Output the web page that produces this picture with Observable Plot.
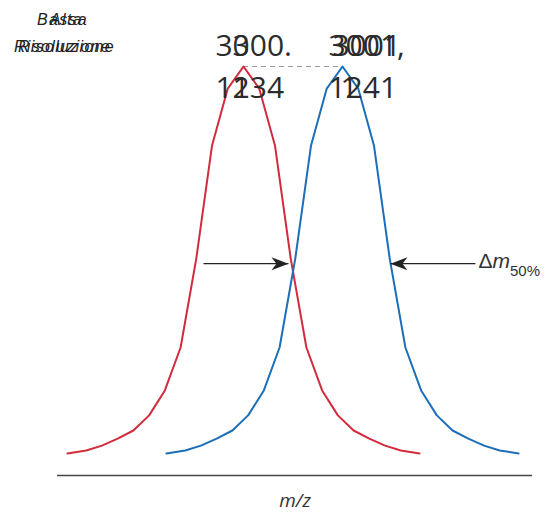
<!DOCTYPE html>
<html>
<head>
<meta charset="utf-8">
<script src="https://cdn.jsdelivr.net/npm/d3@7"></script>
<script src="https://cdn.jsdelivr.net/npm/@observablehq/plot@0.6"></script>
<style>
  html, body { margin: 0; padding: 0; background: #fff; }
  #chart svg { display: block; }
</style>
</head>
<body>
<div id="chart"></div>
<script>
// ---- data ----
const series = ["3000.1234", "3001.1241"];
const peakCenters = [3000.1234, 3001.1241];
const seriesColors = ["#d22b3d", "#1d6eb9"];
// shared peak profile (m/z offset from the peak centre, relative intensity %)
const profileOffset = [-1.78, -1.59, -1.431, -1.272, -1.113, -0.954, -0.795, -0.636, -0.477, -0.318, -0.159, 0,
                        0.159, 0.318, 0.477, 0.636, 0.795, 0.954, 1.113, 1.272, 1.431, 1.59, 1.78];
const profileIntensity = [5.4, 6.1, 7.3, 9.0, 11.0, 14.7, 20.8, 31.3, 53.1, 80.7, 94.6, 100,
                          94.6, 80.7, 53.1, 31.3, 20.8, 14.7, 11.0, 9.0, 7.3, 6.1, 5.4];
const peakLabelTop = ["3000.", "3001,"];
const peakLabelBottom = ["1234", "1241"];
const peakLabelStart = [2999.84, 3000.982];
const overlayTop = ["3", "3001"];
const overlayTopStart = [3000.012, 3001.022];
const overlayBottom = ["1", "1"];
const overlayBottomStart = [3000.012, 3001.103];
const resolutionLabels = ["Bassa\nRisoluzione", "Alta\nRisoluzione"];
const fwhmLevel = 51.8;
const arrowFrom = [2999.719, 3002.468];
const arrowTo = [3000.578, 3001.609];
const fwhmLabel = "Δm50%";
const xLabel = "m/z";
const xDomain = [2998.243, 3003.045];

// ---- tables built from the arrays ----
const points = peakCenters.flatMap((c, i) =>
  profileOffset.map((o, j) => ({mz: c + o, intensity: profileIntensity[j], series: series[i]})));
const topRows = peakLabelTop.map((t, i) => ({x: peakLabelStart[i], text: t}));
const bottomRows = peakLabelBottom.map((t, i) => ({x: peakLabelStart[i], text: t}));
const ovTopRows = overlayTop.map((t, i) => ({x: overlayTopStart[i], text: t}));
const ovBottomRows = overlayBottom.map((t, i) => ({x: overlayBottomStart[i], text: t}));
const arrows = arrowFrom.map((a, i) => ({x1: a, x2: arrowTo[i], y: fwhmLevel}));

const headRight = {draw(ctx) { ctx.moveTo(0, 0); ctx.lineTo(-17, -6.5); ctx.lineTo(-12, 0); ctx.lineTo(-17, 6.5); ctx.closePath(); }};
const headLeft  = {draw(ctx) { ctx.moveTo(0, 0); ctx.lineTo(17, -6.5); ctx.lineTo(12, 0); ctx.lineTo(17, 6.5); ctx.closePath(); }};

const numFont = {fontFamily: "'Open Sans', sans-serif", fontSize: 30, fill: "#2b2b2b"};

const svg = Plot.plot({
  width: 550,
  height: 513,
  marginTop: 66,
  marginBottom: 38,
  marginLeft: 57,
  marginRight: 18,
  x: {domain: xDomain, axis: null},
  y: {domain: [0, 100], axis: null},
  color: {domain: series, range: seriesColors},
  style: {background: "#fff", overflow: "visible", fontFamily: "'Liberation Sans', sans-serif"},
  marks: [
    Plot.ruleY([0], {stroke: "#444", strokeWidth: 1.6}),
    Plot.ruleY([100], {x1: peakCenters[0], x2: peakCenters[1], stroke: "#9a9a9a", strokeWidth: 1.2, strokeDasharray: "5,4"}),
    Plot.line(points, {x: "mz", y: "intensity", z: "series", stroke: "series", strokeWidth: 2}),
    Plot.link(arrows, {x1: "x1", x2: "x2", y1: "y", y2: "y", stroke: "#222", strokeWidth: 1.4}),
    Plot.dot(arrows.slice(0, 1), {x: "x2", y: "y", symbol: headRight, fill: "#222", stroke: "none"}),
    Plot.dot(arrows.slice(1), {x: "x2", y: "y", symbol: headLeft, fill: "#222", stroke: "none"}),
    Plot.text([fwhmLabel], {x: arrowFrom[1], y: fwhmLevel, text: d => d, textAnchor: "start", lineAnchor: "bottom",
      dx: 3, dy: 4, fontSize: 21, fill: "#333"}),
    Plot.text(topRows, {x: "x", text: "text", frameAnchor: "top", textAnchor: "start", lineAnchor: "bottom", dy: -11, ...numFont}),
    Plot.text(bottomRows, {x: "x", text: "text", frameAnchor: "top", textAnchor: "start", lineAnchor: "bottom", dy: 31, ...numFont}),
    Plot.text(ovTopRows, {x: "x", text: "text", frameAnchor: "top", textAnchor: "start", lineAnchor: "bottom", dy: -11, ...numFont}),
    Plot.text(ovBottomRows, {x: "x", text: "text", frameAnchor: "top", textAnchor: "start", lineAnchor: "bottom", dy: 31, ...numFont}),
    Plot.text([resolutionLabels[0]], {frameAnchor: "top-left", text: d => d, textAnchor: "middle", lineAnchor: "bottom",
      dx: 5, dy: -15, lineHeight: 1.63, fontSize: 16, fontStyle: "italic", fill: "#222"}),
    Plot.text([resolutionLabels[1]], {frameAnchor: "top-left", text: d => d, textAnchor: "middle", lineAnchor: "bottom",
      dx: 9, dy: -15, lineHeight: 1.63, fontSize: 16, fontStyle: "italic", fill: "#222"}),
    Plot.text([xLabel], {frameAnchor: "bottom", text: d => d, lineAnchor: "bottom", dy: 31, fontSize: 19,
      fontStyle: "italic", fontFamily: "'Open Sans', sans-serif", fill: "#333"})
  ]
});

// subscript / italic styling for Δm50% and letter spacing for the resolution labels
d3.select(svg).selectAll("text").each(function() {
  const t = d3.select(this);
  if (this.textContent === fwhmLabel) {
    t.text(null);
    t.append("tspan").text("Δ");
    t.append("tspan").attr("font-style", "italic").text("m");
    t.append("tspan").attr("font-size", 15).attr("dy", 8).text("50%");
  } else if (this.textContent.includes("Risoluzione")) {
    t.attr("letter-spacing", 1.3);
  }
});

document.getElementById("chart").append(svg);
</script>
</body>
</html>
